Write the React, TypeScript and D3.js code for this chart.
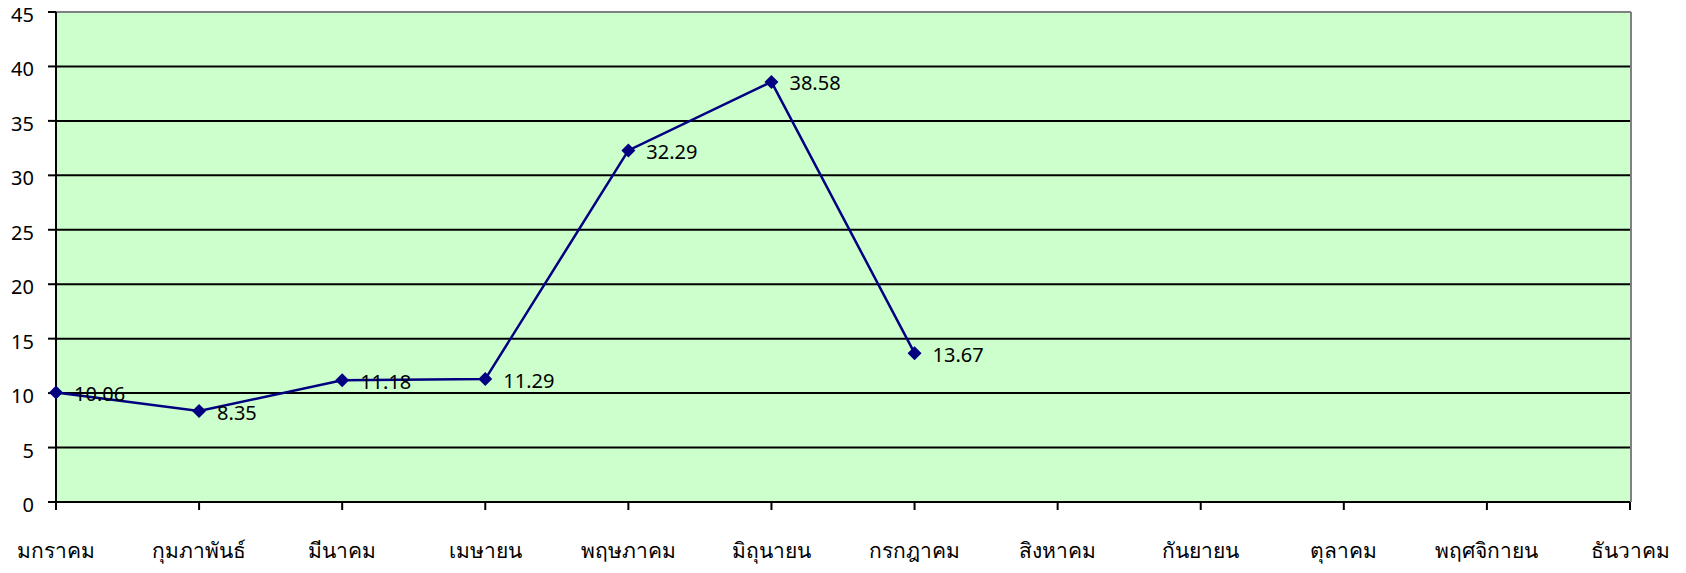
import React from "react";
import * as d3 from "d3";

const months = [
  "มกราคม", "กุมภาพันธ์", "มีนาคม", "เมษายน", "พฤษภาคม", "มิถุนายน",
  "กรกฎาคม", "สิงหาคม", "กันยายน", "ตุลาคม", "พฤศจิกายน", "ธันวาคม",
];
const values = [10.06, 8.35, 11.18, 11.29, 32.29, 38.58, 13.67];
const yTicks = [0, 5, 10, 15, 20, 25, 30, 35, 40, 45];

const W = 1686;
const H = 573;
const left = 56;
const right = 1630;
const top = 12;
const bottom = 502;
const FONT = "'Noto Sans', Tahoma, 'DejaVu Sans', sans-serif";

export default function App() {
  const x = d3.scalePoint<string>().domain(months).range([left, right]);
  const y = d3.scaleLinear().domain([0, 45]).range([bottom, top]);
  const pts = values.map((v, i) => ({ m: months[i], v }));
  const line = d3
    .line<{ m: string; v: number }>()
    .x((d) => x(d.m) as number)
    .y((d) => y(d.v));
  const diamond = d3.symbol().type(d3.symbolDiamond2).size(125)();

  return (
    <svg
      width={W}
      height={H}
      style={{ position: "absolute", left: 0, top: 0, display: "block" }}
    >
      <rect x={0} y={0} width={W} height={H} fill="#ffffff" />
      <rect x={left} y={top} width={right - left} height={bottom - top} fill="#ccffcc" />
      {yTicks.slice(1, -1).map((t) => (
        <line key={"g" + t} x1={left} x2={right} y1={y(t)} y2={y(t)} stroke="#000" strokeWidth={2} />
      ))}
      {/* border top/right */}
      <line x1={left} x2={right + 1} y1={top} y2={top} stroke="#808080" strokeWidth={2} />
      <line x1={right + 1} x2={right + 1} y1={top} y2={bottom} stroke="#808080" strokeWidth={2} />
      {/* axes */}
      <line x1={left} x2={left} y1={top} y2={bottom} stroke="#000" strokeWidth={2} />
      <line x1={left} x2={right} y1={bottom} y2={bottom} stroke="#000" strokeWidth={2} />
      {yTicks.map((t) => (
        <g key={"y" + t}>
          <line x1={left - 8} x2={left} y1={y(t)} y2={y(t)} stroke="#000" strokeWidth={2} />
          <text
            x={34}
            y={y(t) + 10}
            textAnchor="end"
            fontFamily={FONT}
            fontSize={20}
            fill="#000"
          >
            {t}
          </text>
        </g>
      ))}
      {months.map((m) => (
        <g key={m}>
          <line x1={x(m)} x2={x(m)} y1={bottom} y2={bottom + 8} stroke="#000" strokeWidth={2} />
          <text
            x={x(m)}
            y={558}
            textAnchor="middle"
            fontFamily={FONT}
            fontSize={21}
            fill="#000"
          >
            {m}
          </text>
        </g>
      ))}
      <path d={line(pts) || ""} fill="none" stroke="#000080" strokeWidth={2.5} />
      {pts.map((p) => (
        <path
          key={"p" + p.m}
          d={diamond || ""}
          transform={`translate(${x(p.m)},${y(p.v)})`}
          fill="#000080"
        />
      ))}
      {pts.map((p) => (
        <text
          key={"l" + p.m}
          x={(x(p.m) as number) + 18}
          y={y(p.v) + 8.5}
          fontFamily={FONT}
          fontSize={20}
          fill="#000"
        >
          {p.v.toFixed(2)}
        </text>
      ))}
    </svg>
  );
}
